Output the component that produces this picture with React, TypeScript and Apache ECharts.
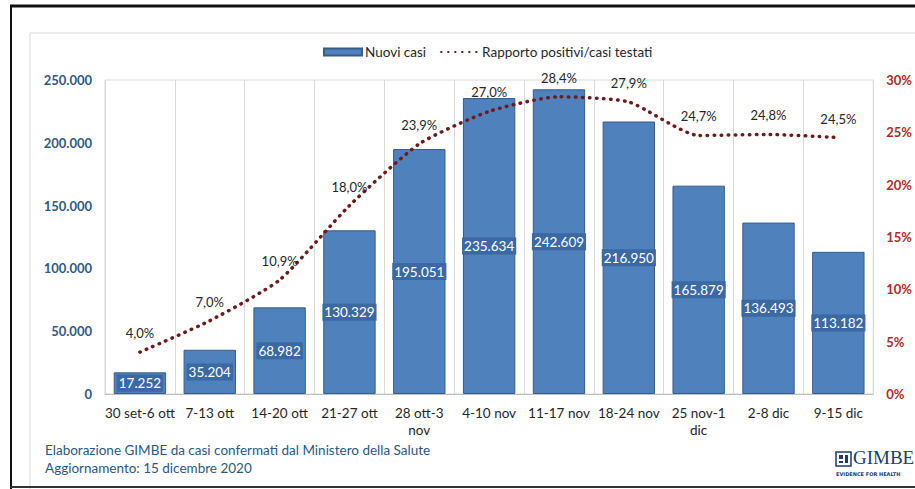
import React, { useEffect, useRef } from "react";
import * as echarts from "echarts";

const categories = [
  "30 set-6 ott",
  "7-13 ott",
  "14-20 ott",
  "21-27 ott",
  "28 ott-3\nnov",
  "4-10 nov",
  "11-17 nov",
  "18-24 nov",
  "25 nov-1\ndic",
  "2-8 dic",
  "9-15 dic",
];
const nuoviCasi = [17252, 35204, 68982, 130329, 195051, 235634, 242609, 216950, 165879, 136493, 113182];
const rapporto = [4.0, 7.0, 10.9, 18.0, 23.9, 27.0, 28.4, 27.9, 24.7, 24.8, 24.5];
const leftTicks = [0, 50000, 100000, 150000, 200000, 250000];
const rightTicks = [0, 5, 10, 15, 20, 25, 30];

const FONT = "Lato, 'Open Sans', sans-serif";
const fmtThousands = (v: number) => String(Math.round(v)).replace(/\B(?=(\d{3})+(?!\d))/g, ".");

export default function App() {
  const ref = useRef<HTMLDivElement>(null);
  useEffect(() => {
    if (!ref.current) return;
    const chart = echarts.init(ref.current, null, { renderer: "svg" });
    chart.setOption({
      animation: false,
      backgroundColor: "#ffffff",
      textStyle: { fontFamily: FONT },
      grid: {
        left: 105,
        right: 35,
        top: 80,
        bottom: 95,
        show: true,
        borderColor: "#d9d9d9",
        borderWidth: 1,
      },
      legend: {
        top: 40,
        left: 318,
        itemGap: 14,
        itemWidth: 38,
        itemHeight: 7,
        textStyle: { fontFamily: FONT, fontSize: 13.5, color: "#262626", padding: [0, 0, 0, -2] },
        data: [
          { name: "Nuovi casi", icon: "rect" },
          { name: "Rapporto positivi/casi testati" },
        ],
      },
      xAxis: {
        type: "category",
        data: categories,
        axisTick: { show: false },
        axisLine: { lineStyle: { color: "#bfbfbf" } },
        splitLine: { show: true, interval: 0, lineStyle: { color: "#d9d9d9" } },
        axisLabel: {
          interval: 0,
          margin: 10,
          color: "#262626",
          fontSize: 13.5,
          fontFamily: FONT,
          lineHeight: 17,
        },
      },
      yAxis: [
        {
          type: "value",
          min: leftTicks[0],
          max: leftTicks[leftTicks.length - 1],
          interval: leftTicks[1] - leftTicks[0],
          axisLine: { show: false },
          axisTick: { show: false },
          splitLine: { show: false },
          axisLabel: {
            formatter: (v: number) => fmtThousands(v),
            color: "#2e5a87",
            fontSize: 13,
            fontWeight: "bold",
            fontFamily: FONT,
            margin: 13,
          },
        },
        {
          type: "value",
          min: rightTicks[0],
          max: rightTicks[rightTicks.length - 1],
          interval: rightTicks[1] - rightTicks[0],
          axisLine: { show: false },
          axisTick: { show: false },
          splitLine: { show: false },
          axisLabel: {
            formatter: "{value}%",
            color: "#b02a2a",
            fontSize: 13,
            fontWeight: "bold",
            fontFamily: FONT,
            margin: 13,
          },
        },
      ],
      series: [
        {
          name: "Nuovi casi",
          type: "bar",
          data: nuoviCasi,
          barCategoryGap: "25%",
          itemStyle: { color: "#4f81bd", borderColor: "#385d8a", borderWidth: 1 },
          label: {
            show: true,
            position: "inside",
            formatter: (p: any) => fmtThousands(p.value),
            color: "#ffffff",
            fontSize: 13.5,
            fontFamily: FONT,
            backgroundColor: "#3a69a3",
            padding: [2, 2, 1, 2],
          },
        },
        {
          name: "Rapporto positivi/casi testati",
          type: "line",
          yAxisIndex: 1,
          data: rapporto,
          smooth: 0.2,
          symbol: "circle",
          symbolSize: 1,
          showSymbol: true,
          lineStyle: { color: "#6e1a1a", width: 3.5, type: [0.5, 6.5], cap: "round" },
          itemStyle: { color: "rgba(0,0,0,0)" },
          label: {
            show: true,
            position: "top",
            distance: 12,
            formatter: (p: any) => Number(p.value).toFixed(1).replace(".", ",") + "%",
            color: "#262626",
            fontSize: 13,
            fontFamily: FONT,
          },
          z: 5,
        },
      ],
      graphic: [
        { type: "rect", shape: { x: 30, y: 33, width: 900, height: 470 }, style: { fill: "none", stroke: "#d9d9d9", lineWidth: 1 }, z: -1 },
        { type: "line", shape: { x1: 10, y1: 6, x2: 915, y2: 6 }, style: { stroke: "#111", lineWidth: 3 } },
        { type: "line", shape: { x1: 11, y1: 5, x2: 11, y2: 489 }, style: { stroke: "#111", lineWidth: 2 } },
        { type: "line", shape: { x1: 10, y1: 487, x2: 915, y2: 487 }, style: { stroke: "#333", lineWidth: 2 } },
        {
          type: "text",
          left: 45,
          top: 443,
          style: { text: "Elaborazione GIMBE da casi confermati dal Ministero della Salute", fill: "#2a5783", font: `13.5px ${FONT}` },
        },
        {
          type: "text",
          left: 45,
          top: 461,
          style: { text: "Aggiornamento: 15 dicembre 2020", fill: "#2a5783", font: `13.5px ${FONT}` },
        },
        { type: "rect", shape: { x: 836, y: 452, width: 15, height: 14 }, style: { fill: "#ffffff", stroke: "#1c3d6e", lineWidth: 1.5 } },
        { type: "rect", shape: { x: 839, y: 455, width: 4, height: 4 }, style: { fill: "#1c3d6e" } },
        { type: "rect", shape: { x: 845, y: 455, width: 3, height: 8 }, style: { fill: "#1c3d6e" } },
        { type: "rect", shape: { x: 839, y: 461, width: 4, height: 2 }, style: { fill: "#1c3d6e" } },
        {
          type: "text",
          x: 853,
          y: 448,
          style: { text: "GIMBE", fill: "#1c3d6e", font: "19px 'Liberation Serif', 'DejaVu Serif', serif" },
        },
        {
          type: "text",
          x: 836,
          y: 471,
          style: { text: "EVIDENCE FOR HEALTH", fill: "#1c3d6e", font: "bold 5px 'DejaVu Sans', sans-serif" },
        },
      ],
    });
    return () => chart.dispose();
  }, []);
  return <div ref={ref} style={{ position: "fixed", left: 0, top: 0, width: 915, height: 489 }} />;
}
